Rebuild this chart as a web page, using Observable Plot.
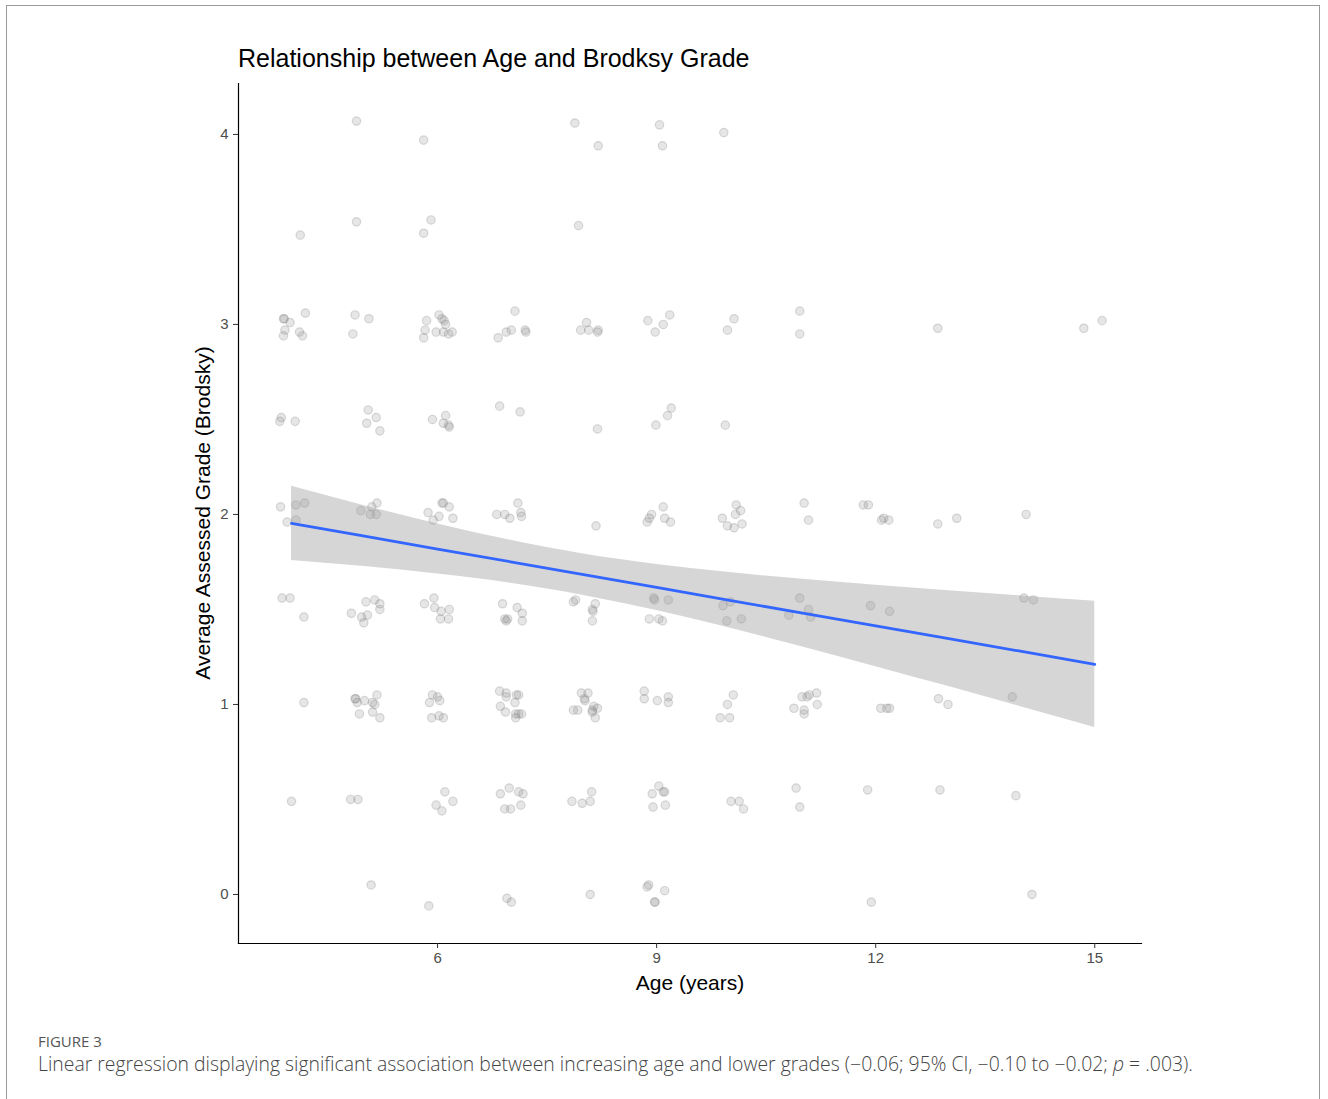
<!DOCTYPE html>
<html>
<head>
<meta charset="utf-8">
<script src="https://cdn.jsdelivr.net/npm/d3@7"></script>
<script src="https://cdn.jsdelivr.net/npm/@observablehq/plot@0.6"></script>
<style>
  html, body { margin: 0; padding: 0; background: #fff; }
  #fig { position: relative; width: 1328px; height: 1099px; overflow: hidden; font-family: "Liberation Sans", Arial, sans-serif; }
  #border { position: absolute; left: 6px; top: 5px; width: 1314px; height: 1100px; border: 1px solid #9a9a9a; box-sizing: border-box; }
  #plot { position: absolute; left: 0; top: 0; }
  .abs { position: absolute; white-space: nowrap; line-height: 1; }
  #title { left: 238px; top: 46px; font-size: 25px; color: #000; }
  #xlab { left: 690px; top: 972px; transform: translateX(-50%); font-size: 21px; color: #000; }
  #ylab { left: 202px; top: 513px; transform: translate(-50%, -50%) rotate(-90deg); font-size: 21px; color: #000; }
  #fignum { left: 38px; top: 1034px; font-family: "Open Sans", sans-serif; font-size: 15px; color: #555; }
  #caption { left: 38px; top: 1054px; font-family: "Open Sans", sans-serif; font-weight: 300; font-size: 19.4px; color: #444; }
</style>
</head>
<body>
<div id="fig">
  <div id="border"></div>
  <div id="plot"></div>
  <div class="abs" id="title">Relationship between Age and Brodksy Grade</div>
  <div class="abs" id="xlab">Age (years)</div>
  <div class="abs" id="ylab">Average Assessed Grade (Brodsky)</div>
  <div class="abs" id="fignum">FIGURE 3</div>
  <div class="abs" id="caption">Linear regression displaying significant association between increasing age and lower grades (−0.06; 95% CI, −0.10 to −0.02; <i>p</i> = .003).</div>
</div>
<script>
// ---- Data: jittered observations [age (years), average grade], grouped by grade level ----
const row4  = [[4.89,4.07],[5.81,3.97],[7.88,4.06],[8.20,3.94],[9.04,4.05],[9.08,3.94],[9.92,4.01]];
const row35 = [[4.12,3.47],[4.89,3.54],[5.91,3.55],[5.81,3.48],[7.93,3.52]];
const row3  = [[3.89,3.03],[3.90,3.03],[3.98,3.01],[4.19,3.06],[3.91,2.97],[3.89,2.94],[4.11,2.96],[4.15,2.94],
               [4.87,3.05],[5.06,3.03],[4.84,2.95],[5.85,3.02],[6.02,3.05],[6.06,3.03],[6.11,3.00],[5.83,2.97],
               [5.81,2.93],[5.98,2.96],[6.08,2.96],[6.15,2.95],[6.20,2.96],[6.09,3.02],[7.06,3.07],[6.83,2.93],
               [6.94,2.96],[7.01,2.97],[7.20,2.97],[7.21,2.96],[8.04,3.01],[7.96,2.97],[8.07,2.97],[8.19,2.96],
               [8.20,2.97],[8.88,3.02],[9.18,3.05],[9.09,3.00],[8.98,2.96],[10.06,3.03],[9.97,2.97],[10.96,3.07],
               [10.96,2.95],[12.85,2.98],[14.85,2.98],[15.10,3.02]];
const row25 = [[3.86,2.51],[3.84,2.49],[4.05,2.49],[5.05,2.55],[5.16,2.51],[5.03,2.48],[5.21,2.44],[5.93,2.50],
               [6.11,2.52],[6.08,2.48],[6.15,2.47],[6.16,2.46],[6.85,2.57],[7.13,2.54],[8.19,2.45],[8.99,2.47],
               [9.15,2.52],[9.20,2.56],[9.94,2.47]];
const row2  = [[3.85,2.04],[3.94,1.96],[4.06,2.05],[4.18,2.06],[4.06,1.97],[4.95,2.02],[5.10,2.04],[5.17,2.06],
               [5.08,2.00],[5.16,2.00],[6.06,2.06],[6.08,2.06],[6.16,2.04],[5.87,2.01],[6.02,1.99],[5.94,1.97],
               [6.21,1.98],[6.81,2.00],[6.92,2.00],[6.99,1.98],[7.10,2.06],[7.14,2.01],[7.15,1.99],[8.17,1.94],
               [8.87,1.96],[8.90,1.98],[8.93,2.00],[9.09,2.04],[9.11,1.98],[9.19,1.96],[9.90,1.98],[9.97,1.94],
               [10.06,1.93],[10.17,1.95],[10.09,2.05],[10.08,2.00],[10.15,2.02],[11.02,2.06],[11.08,1.97],[11.83,2.05],
               [11.90,2.05],[12.08,1.97],[12.11,1.98],[12.18,1.97],[12.85,1.95],[13.11,1.98],[14.06,2.00]];
const row15 = [[3.87,1.56],[3.98,1.56],[4.17,1.46],[5.02,1.54],[5.14,1.55],[5.21,1.53],[5.21,1.50],[4.82,1.48],
               [4.96,1.46],[5.04,1.47],[4.99,1.43],[5.95,1.56],[5.82,1.53],[5.96,1.51],[6.05,1.49],[6.16,1.50],
               [6.04,1.45],[6.15,1.45],[6.89,1.53],[6.92,1.45],[6.94,1.44],[6.96,1.45],[7.09,1.51],[7.16,1.48],
               [7.16,1.44],[7.86,1.54],[7.89,1.55],[8.16,1.53],[8.12,1.50],[8.13,1.49],[8.12,1.44],[8.96,1.56],
               [8.97,1.55],[9.16,1.55],[8.90,1.45],[9.03,1.45],[9.08,1.44],[9.91,1.52],[10.01,1.54],[9.96,1.44],
               [10.16,1.45],[10.96,1.56],[11.08,1.50],[10.81,1.47],[11.11,1.46],[11.93,1.52],[12.19,1.49],[14.03,1.56],
               [14.16,1.55]];
const row1  = [[4.17,1.01],[4.87,1.03],[4.88,1.03],[4.90,1.01],[5.00,1.02],[5.11,1.01],[5.14,1.00],[5.17,1.05],
               [4.93,0.95],[5.11,0.96],[5.21,0.93],[5.93,1.05],[6.00,1.04],[5.89,1.01],[6.03,1.02],[5.92,0.93],
               [6.02,0.94],[6.08,0.93],[6.85,1.07],[6.94,1.06],[6.94,1.04],[7.08,1.05],[7.11,1.05],[7.06,1.01],
               [6.86,0.99],[6.93,0.96],[7.07,0.95],[7.11,0.95],[7.15,0.95],[7.07,0.93],[7.97,1.06],[8.06,1.06],
               [8.01,1.03],[8.02,1.02],[7.86,0.97],[7.92,0.97],[8.12,0.97],[8.12,0.96],[8.14,0.99],[8.19,0.98],
               [8.16,0.93],[8.83,1.07],[8.83,1.03],[9.01,1.02],[9.16,1.04],[9.16,1.01],[10.05,1.05],[9.97,1.00],
               [9.87,0.93],[10.00,0.93],[10.99,1.04],[11.09,1.05],[11.06,1.04],[11.19,1.06],[10.88,0.98],[11.02,0.97],
               [11.02,0.95],[11.20,1.00],[12.07,0.98],[12.15,0.98],[12.19,0.98],[12.86,1.03],[12.99,1.00],[13.87,1.04]];
const row05 = [[4.00,0.49],[4.81,0.50],[4.91,0.50],[6.10,0.54],[6.21,0.49],[5.98,0.47],[6.06,0.44],[6.86,0.53],
               [6.98,0.56],[7.11,0.54],[7.17,0.53],[6.92,0.45],[7.00,0.45],[7.14,0.47],[7.84,0.49],[7.98,0.48],
               [8.09,0.49],[8.11,0.54],[8.94,0.53],[9.03,0.57],[9.09,0.54],[9.11,0.54],[8.95,0.46],[9.12,0.47],
               [10.02,0.49],[10.13,0.49],[10.19,0.45],[10.91,0.56],[10.96,0.46],[11.89,0.55],[12.88,0.55],[13.92,0.52]];
const row0  = [[5.09,0.05],[5.88,-0.06],[6.95,-0.02],[7.01,-0.04],[8.09,0.00],[8.87,0.04],[8.89,0.05],[9.11,0.02],
               [8.97,-0.04],[8.98,-0.04],[11.94,-0.04],[14.14,0.00]];

// ---- Fitted linear regression with 95% CI ----
const fitAge  = [4, 5, 6, 7, 8, 9, 10, 11, 12, 13, 14, 15];
const fitMid  = [1.953, 1.886, 1.818, 1.751, 1.683, 1.616, 1.548, 1.481, 1.413, 1.346, 1.279, 1.211];
const fitLow  = [1.758, 1.726, 1.686, 1.638, 1.574, 1.495, 1.402, 1.303, 1.199, 1.094, 0.987, 0.879];
const fitHigh = [2.148, 2.046, 1.950, 1.864, 1.792, 1.737, 1.694, 1.659, 1.627, 1.598, 1.571, 1.543];

// ---- Axis ticks ----
const xTicks = [6, 9, 12, 15];
const yTicks = [0, 1, 2, 3, 4];

const points = [row4, row35, row3, row25, row2, row15, row1, row05, row0]
  .flat().map(([age, grade]) => ({age, grade}));
const fit = fitAge.map((a, i) => ({age: a, mid: fitMid[i], low: fitLow[i], high: fitHigh[i]}));

const chart = Plot.plot({
  width: 1328,
  height: 1010,
  marginLeft: 238,
  marginRight: 187,
  marginTop: 83,
  marginBottom: 67,
  style: {fontFamily: "'Liberation Sans', Arial, sans-serif", fontSize: "15px", color: "#000", background: "transparent"},
  x: {domain: [3.274, 15.64]},
  y: {domain: [-0.258, 4.268]},
  marks: [
    Plot.dot(points, {x: "age", y: "grade", r: 4.2, fill: "#808080", fillOpacity: 0.2,
                      stroke: "#808080", strokeOpacity: 0.28, strokeWidth: 1.2}),
    Plot.areaY(fit, {x: "age", y1: "low", y2: "high", fill: "#999999", fillOpacity: 0.4, curve: "natural"}),
    Plot.line(fit, {x: "age", y: "mid", stroke: "#3366FF", strokeWidth: 2.8}),
    Plot.frame({anchor: "left", stroke: "#000", strokeWidth: 1.2}),
    Plot.frame({anchor: "bottom", stroke: "#000", strokeWidth: 1.2}),
    Plot.axisX({ticks: xTicks, tickFormat: d3.format("d"), tickSize: 5, tickPadding: 4, fontSize: 15,
                fontFamily: "'Liberation Sans', Arial, sans-serif", label: null, stroke: "#333", fill: "#4d4d4d"}),
    Plot.axisY({ticks: yTicks, tickFormat: d3.format("d"), tickSize: 5, tickPadding: 5, fontSize: 15,
                fontFamily: "'Liberation Sans', Arial, sans-serif", label: null, stroke: "#333", fill: "#4d4d4d"})
  ]
});
document.getElementById("plot").appendChild(chart);
</script>
</body>
</html>
